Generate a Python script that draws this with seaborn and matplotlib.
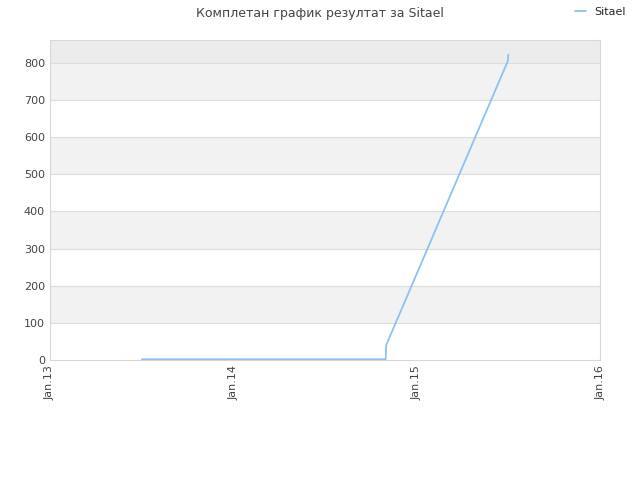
import pandas as pd
import numpy as np
import matplotlib.pyplot as plt
import matplotlib.dates as mdates
import seaborn as sns

# data
dates = ['2013-07-03', '2014-10-31', '2014-11-01', '2015-07-01', '2015-07-02']
scores = [2, 2, 40, 805, 822]
series_name = 'Sitael'
tick_dates = ['2013-01-01', '2014-01-01', '2015-01-01', '2016-01-01']
tick_labels = ['Jan.13', 'Jan.14', 'Jan.15', 'Jan.16']

df = pd.DataFrame({'date': pd.to_datetime(dates), 'score': scores, 'player': series_name})

sns.set_style('white')
plt.rcParams['font.family'] = ['DejaVu Sans']

fig = plt.figure(figsize=(6.4, 4.8), dpi=100)
ax = fig.add_axes([0.078, 0.25, 0.86, 0.667])

# alternating bands
ymax = 862
for i, lo in enumerate(range(0, 900, 100)):
    if lo >= 800:
        c = '#ececec'
    elif i % 2 == 1:
        c = '#f2f2f2'
    else:
        c = '#ffffff'
    ax.axhspan(lo, min(lo + 100, ymax), color=c, zorder=0, lw=0)
for y in range(100, 900, 100):
    ax.axhline(y, color='#dddddd', lw=0.8, zorder=1)

sns.lineplot(data=df, x='date', y='score', hue='player', palette=['#8ec1f3'],
             lw=1.3, ax=ax, zorder=3, estimator=None)

ax.set_ylim(0, ymax)
ax.set_xlim(pd.Timestamp(tick_dates[0]), pd.Timestamp(tick_dates[-1]))
ax.set_yticks(range(0, 900, 100))
ax.set_xticks(pd.to_datetime(tick_dates))
ax.set_xticklabels(tick_labels, rotation=90)
ax.tick_params(labelsize=8, colors='#444444', length=0)
ax.set_xlabel('')
ax.set_ylabel('')
for s in ax.spines.values():
    s.set_color('#d8d8d8')

leg = ax.legend(loc='upper right', bbox_to_anchor=(1.065, 1.135), frameon=False,
                fontsize=8, handlelength=1, handletextpad=0.8)
fig.suptitle('Комплетан график резултат за Sitael', y=0.985, fontsize=9, color='#444444')

fig.savefig('out.png')
